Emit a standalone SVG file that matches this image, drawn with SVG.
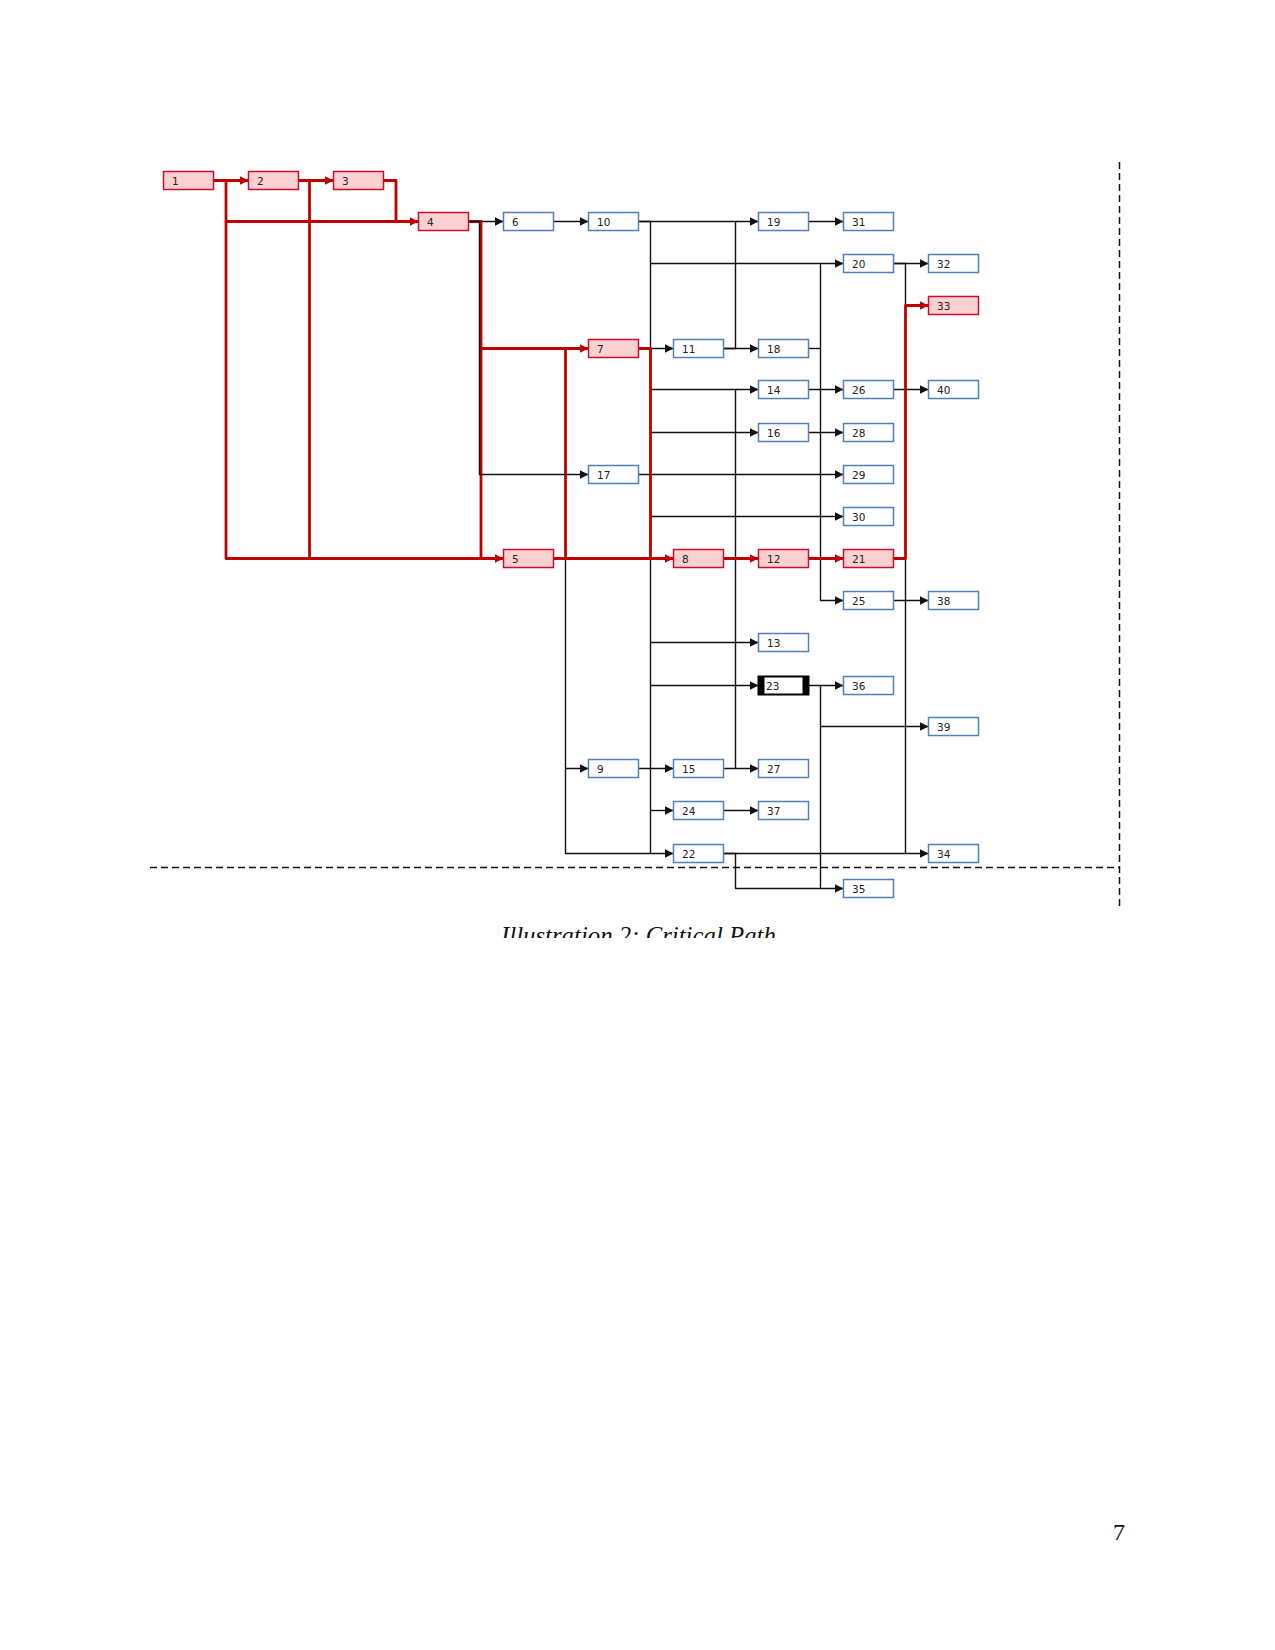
<svg xmlns="http://www.w3.org/2000/svg" width="1275" height="1650" viewBox="0 0 1275 1650">
<style>
.n rect.b{fill:#fff;stroke:#4f81bd;stroke-width:1.5}
.n rect.c{fill:#fbd0d0;stroke:#c8102e;stroke-width:1.5}
.n text{font-family:"DejaVu Sans",Verdana,sans-serif;font-size:10.5px;fill:#222}
.k{fill:none;stroke:#111;stroke-width:1.4;stroke-linejoin:round}
.r{fill:none;stroke:#c00000;stroke-width:2.8;stroke-linejoin:round}
.d{fill:none;stroke:#111;stroke-width:1.5;stroke-dasharray:7 4}
</style>
<defs>
<marker id="ab" markerUnits="userSpaceOnUse" markerWidth="10" markerHeight="10" refX="9" refY="4.5" orient="auto"><path d="M0,0 L9,4.5 L0,9 z" fill="#111"/></marker>
<marker id="ar" markerUnits="userSpaceOnUse" markerWidth="10" markerHeight="10" refX="9" refY="4.5" orient="auto"><path d="M0,0 L9,4.5 L0,9 z" fill="#c00000"/></marker>
<clipPath id="cap"><rect x="0" y="900" width="1275" height="38"/></clipPath>
</defs>

<g id="connectors">
<g id="black-edges">
<path class="k" d="M468.5,221.5 H503.5" marker-end="url(#ab)"/>
<path class="k" d="M553.5,221.5 H588.5" marker-end="url(#ab)"/>
<path class="k" d="M638.5,221.5 H758.5" marker-end="url(#ab)"/>
<path class="k" d="M808.5,221.5 H843.5" marker-end="url(#ab)"/>
<path class="k" d="M638.5,221.5 H650.5 V263.5 H843.5" marker-end="url(#ab)"/>
<path class="k" d="M650.5,263.5 V853.5"/>
<path class="k" d="M893.5,263.5 H928.5" marker-end="url(#ab)"/>
<path class="k" d="M893.5,263.5 H905.5 V305.5"/>
<path class="k" d="M638.5,348.5 H673.5" marker-end="url(#ab)"/>
<path class="k" d="M723.5,348.5 H758.5" marker-end="url(#ab)"/>
<path class="k" d="M723.5,348.5 H735.5 V221.5"/>
<path class="k" d="M808.5,348.5 H820.5"/>
<path class="k" d="M820.5,263.5 V600.5 H843.5" marker-end="url(#ab)"/>
<path class="k" d="M650.5,389.5 H758.5" marker-end="url(#ab)"/>
<path class="k" d="M808.5,389.5 H843.5" marker-end="url(#ab)"/>
<path class="k" d="M893.5,389.5 H928.5" marker-end="url(#ab)"/>
<path class="k" d="M650.5,432.5 H758.5" marker-end="url(#ab)"/>
<path class="k" d="M808.5,432.5 H843.5" marker-end="url(#ab)"/>
<path class="k" d="M638.5,474.5 H843.5" marker-end="url(#ab)"/>
<path class="k" d="M650.5,516.5 H843.5" marker-end="url(#ab)"/>
<path class="k" d="M893.5,600.5 H928.5" marker-end="url(#ab)"/>
<path class="k" d="M650.5,642.5 H758.5" marker-end="url(#ab)"/>
<path class="k" d="M650.5,685.5 H758.5" marker-end="url(#ab)"/>
<path class="k" d="M808.5,685.5 H843.5" marker-end="url(#ab)"/>
<path class="k" d="M820.5,685.5 V888.5"/>
<path class="k" d="M820.5,726.5 H928.5" marker-end="url(#ab)"/>
<path class="k" d="M735.5,389.5 V768.5"/>
<path class="k" d="M553.5,558.5 H565.5 V768.5 H588.5" marker-end="url(#ab)"/>
<path class="k" d="M565.5,768.5 V853.5 H673.5" marker-end="url(#ab)"/>
<path class="k" d="M638.5,768.5 H673.5" marker-end="url(#ab)"/>
<path class="k" d="M723.5,768.5 H758.5" marker-end="url(#ab)"/>
<path class="k" d="M650.5,810.5 H673.5" marker-end="url(#ab)"/>
<path class="k" d="M723.5,810.5 H758.5" marker-end="url(#ab)"/>
<path class="k" d="M723.5,853.5 H928.5" marker-end="url(#ab)"/>
<path class="k" d="M905.5,558.5 V853.5"/>
<path class="k" d="M723.5,853.5 H735.5 V888.5 H843.5" marker-end="url(#ab)"/>
<path class="k" d="M808.5,558.5 H820.5"/>
</g>
<g id="red-edges">
<path class="r" d="M213.5,180.5 H248.5" marker-end="url(#ar)"/>
<path class="r" d="M298.5,180.5 H333.5" marker-end="url(#ar)"/>
<path class="r" d="M213.5,180.5 H226 V221.5 H418.5" marker-end="url(#ar)"/>
<path class="r" d="M226,221.5 V558.5 H503.5" marker-end="url(#ar)"/>
<path class="r" d="M298.5,180.5 H309.5 V558.5"/>
<path class="r" d="M383.5,180.5 H396 V221.5"/>
<path class="r" d="M469,221.5 H481 V558.5"/>
<path class="r" d="M481,348.5 H588.5" marker-end="url(#ar)"/>
<path class="r" d="M553.5,558.5 H565.5 V348.5"/>
<path class="r" d="M553.5,558.5 H673.5" marker-end="url(#ar)"/>
<path class="r" d="M638.5,348.5 H650.5 V558.5"/>
<path class="r" d="M723.5,558.5 H758.5" marker-end="url(#ar)"/>
<path class="r" d="M808.5,558.5 H843.5" marker-end="url(#ar)"/>
<path class="r" d="M893.5,558.5 H905.5 V305.5 H928.5" marker-end="url(#ar)"/>
</g>
<path class="k" d="M468.5,221.5 H479.5 V474.5 H588.5" marker-end="url(#ab)"/>
</g>

<g id="node1" class="n"><rect class="c" x="163.5" y="171.5" width="50" height="18"/><text x="172" y="184.5">1</text></g>
<g id="node2" class="n"><rect class="c" x="248.5" y="171.5" width="50" height="18"/><text x="257" y="184.5">2</text></g>
<g id="node3" class="n"><rect class="c" x="333.5" y="171.5" width="50" height="18"/><text x="342" y="184.5">3</text></g>
<g id="node4" class="n"><rect class="c" x="418.5" y="212.5" width="50" height="18"/><text x="427" y="225.5">4</text></g>
<g id="node5" class="n"><rect class="c" x="503.5" y="549.5" width="50" height="18"/><text x="512" y="562.5">5</text></g>
<g id="node6" class="n"><rect class="b" x="503.5" y="212.5" width="50" height="18"/><text x="512" y="225.5">6</text></g>
<g id="node7" class="n"><rect class="c" x="588.5" y="339.5" width="50" height="18"/><text x="597" y="352.5">7</text></g>
<g id="node8" class="n"><rect class="c" x="673.5" y="549.5" width="50" height="18"/><text x="682" y="562.5">8</text></g>
<g id="node9" class="n"><rect class="b" x="588.5" y="759.5" width="50" height="18"/><text x="597" y="772.5">9</text></g>
<g id="node10" class="n"><rect class="b" x="588.5" y="212.5" width="50" height="18"/><text x="597" y="225.5">10</text></g>
<g id="node11" class="n"><rect class="b" x="673.5" y="339.5" width="50" height="18"/><text x="682" y="352.5">11</text></g>
<g id="node12" class="n"><rect class="c" x="758.5" y="549.5" width="50" height="18"/><text x="767" y="562.5">12</text></g>
<g id="node13" class="n"><rect class="b" x="758.5" y="633.5" width="50" height="18"/><text x="767" y="646.5">13</text></g>
<g id="node14" class="n"><rect class="b" x="758.5" y="380.5" width="50" height="18"/><text x="767" y="393.5">14</text></g>
<g id="node15" class="n"><rect class="b" x="673.5" y="759.5" width="50" height="18"/><text x="682" y="772.5">15</text></g>
<g id="node16" class="n"><rect class="b" x="758.5" y="423.5" width="50" height="18"/><text x="767" y="436.5">16</text></g>
<g id="node17" class="n"><rect class="b" x="588.5" y="465.5" width="50" height="18"/><text x="597" y="478.5">17</text></g>
<g id="node18" class="n"><rect class="b" x="758.5" y="339.5" width="50" height="18"/><text x="767" y="352.5">18</text></g>
<g id="node19" class="n"><rect class="b" x="758.5" y="212.5" width="50" height="18"/><text x="767" y="225.5">19</text></g>
<g id="node20" class="n"><rect class="b" x="843.5" y="254.5" width="50" height="18"/><text x="852" y="267.5">20</text></g>
<g id="node21" class="n"><rect class="c" x="843.5" y="549.5" width="50" height="18"/><text x="852" y="562.5">21</text></g>
<g id="node22" class="n"><rect class="b" x="673.5" y="844.5" width="50" height="18"/><text x="682" y="857.5">22</text></g>
<g id="node23" class="n"><rect x="758.5" y="676.5" width="50" height="18" fill="#fff" stroke="#000" stroke-width="2"/><rect x="758.5" y="676.5" width="6" height="18" fill="#000"/><rect x="802.5" y="676.5" width="6" height="18" fill="#000"/><text x="766" y="689.5">23</text></g>
<g id="node24" class="n"><rect class="b" x="673.5" y="801.5" width="50" height="18"/><text x="682" y="814.5">24</text></g>
<g id="node25" class="n"><rect class="b" x="843.5" y="591.5" width="50" height="18"/><text x="852" y="604.5">25</text></g>
<g id="node26" class="n"><rect class="b" x="843.5" y="380.5" width="50" height="18"/><text x="852" y="393.5">26</text></g>
<g id="node27" class="n"><rect class="b" x="758.5" y="759.5" width="50" height="18"/><text x="767" y="772.5">27</text></g>
<g id="node28" class="n"><rect class="b" x="843.5" y="423.5" width="50" height="18"/><text x="852" y="436.5">28</text></g>
<g id="node29" class="n"><rect class="b" x="843.5" y="465.5" width="50" height="18"/><text x="852" y="478.5">29</text></g>
<g id="node30" class="n"><rect class="b" x="843.5" y="507.5" width="50" height="18"/><text x="852" y="520.5">30</text></g>
<g id="node31" class="n"><rect class="b" x="843.5" y="212.5" width="50" height="18"/><text x="852" y="225.5">31</text></g>
<g id="node32" class="n"><rect class="b" x="928.5" y="254.5" width="50" height="18"/><text x="937" y="267.5">32</text></g>
<g id="node33" class="n"><rect class="c" x="928.5" y="296.5" width="50" height="18"/><text x="937" y="309.5">33</text></g>
<g id="node34" class="n"><rect class="b" x="928.5" y="844.5" width="50" height="18"/><text x="937" y="857.5">34</text></g>
<g id="node35" class="n"><rect class="b" x="843.5" y="879.5" width="50" height="18"/><text x="852" y="892.5">35</text></g>
<g id="node36" class="n"><rect class="b" x="843.5" y="676.5" width="50" height="18"/><text x="852" y="689.5">36</text></g>
<g id="node37" class="n"><rect class="b" x="758.5" y="801.5" width="50" height="18"/><text x="767" y="814.5">37</text></g>
<g id="node38" class="n"><rect class="b" x="928.5" y="591.5" width="50" height="18"/><text x="937" y="604.5">38</text></g>
<g id="node39" class="n"><rect class="b" x="928.5" y="717.5" width="50" height="18"/><text x="937" y="730.5">39</text></g>
<g id="node40" class="n"><rect class="b" x="928.5" y="380.5" width="50" height="18"/><text x="937" y="393.5">40</text></g>

<g id="page-frame">
<path class="d" d="M150,867.5 H1120"/>
<path class="d" d="M1119.5,162 V908"/>
</g>
<text x="501" y="944" clip-path="url(#cap)" font-family="Liberation Serif, serif" font-style="italic" font-size="24.8" fill="#111">Illustration 2: Critical Path</text>
<text x="1113" y="1540" font-family="Liberation Serif, serif" font-size="24" fill="#111">7</text>
</svg>
